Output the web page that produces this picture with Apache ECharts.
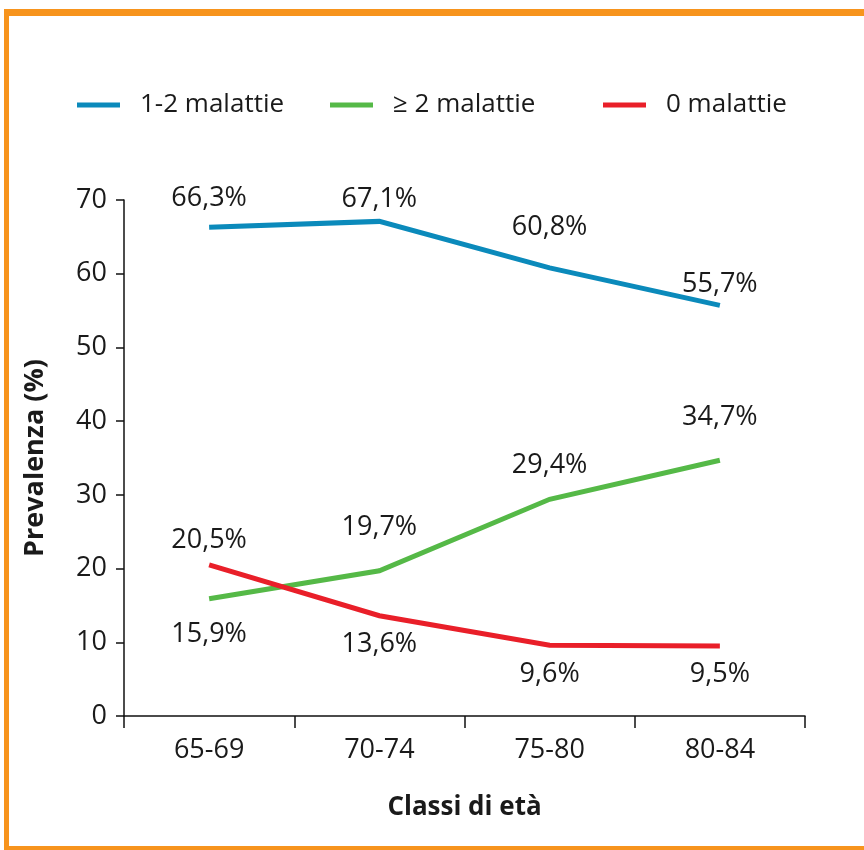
<!DOCTYPE html>
<html>
<head>
<meta charset="utf-8">
<script src="https://cdn.jsdelivr.net/npm/echarts@6/dist/echarts.min.js"></script>
<style>
  html, body { margin: 0; padding: 0; background: #fff; }
  #chart { width: 864px; height: 850px; }
</style>
</head>
<body>
<div id="chart"></div>
<script>
// Age classes and prevalence (%) of chronic conditions
const ageClasses = ['65-69', '70-74', '75-80', '80-84'];
const seriesNames = ['1-2 malattie', '\u2265 2 malattie', '0 malattie'];
const oneToTwo = [66.3, 67.1, 60.8, 55.7];
const twoOrMore = [15.9, 19.7, 29.4, 34.7];
const none = [20.5, 13.6, 9.6, 9.5];
const yTicks = [0, 10, 20, 30, 40, 50, 60, 70];

const colors = ['#0b8abb', '#55b947', '#e91f29'];
const FONT = '"Open Sans", "DejaVu Sans", sans-serif';
const TEXT = '#1a1a1a';

// Where each point's value label sits relative to its point
const labelPlacement = [
  [['top', 15], ['top', 9], ['top', 27], ['top', 8]],
  [['bottom', 22], ['top', 30], ['top', 20], ['top', 29]],
  [['top', 11], ['bottom', 15], ['bottom', 16], ['bottom', 15]]
];

// Left edge of each legend entry
const legendLeft = [72, 325, 598];

const fmt = v => v.toFixed(1).replace('.', ',') + '%';

function buildSeries(name, values, idx) {
  return {
    name: name,
    type: 'line',
    data: values.map((v, i) => ({
      value: v,
      label: { position: labelPlacement[idx][i][0], distance: labelPlacement[idx][i][1] }
    })),
    showSymbol: true,
    symbol: 'circle',
    symbolSize: 0,
    lineStyle: { color: colors[idx], width: 5, join: 'miter', cap: 'butt' },
    itemStyle: { color: colors[idx] },
    label: {
      show: true,
      formatter: p => fmt(p.value),
      fontFamily: FONT,
      fontSize: 27,
      color: TEXT
    },
    emphasis: { disabled: true },
    animation: false
  };
}

const chart = echarts.init(document.getElementById('chart'), null, { renderer: 'canvas' });

chart.setOption({
  backgroundColor: '#fff',
  animation: false,
  graphic: [
    { type: 'rect', shape: { x: 4, y: 9, width: 860, height: 7 }, style: { fill: '#f7941d' } },
    { type: 'rect', shape: { x: 4, y: 9, width: 5, height: 841 }, style: { fill: '#f7941d' } },
    { type: 'rect', shape: { x: 4, y: 846, width: 860, height: 4 }, style: { fill: '#f7941d' } }
  ],
  legend: seriesNames.map((n, i) => ({
    left: legendLeft[i],
    top: 87,
    icon: 'rect',
    itemWidth: 43,
    itemHeight: 5,
    data: [n],
    textStyle: { fontFamily: FONT, fontSize: 26, color: TEXT, padding: [0, 0, 0, 15] },
    selectedMode: false
  })),
  grid: { left: 124, top: 200, width: 681, height: 516, containLabel: false },
  xAxis: {
    type: 'category',
    data: ageClasses,
    boundaryGap: true,
    name: 'Classi di et\u00e0',
    nameLocation: 'middle',
    nameGap: 79,
    nameTextStyle: { fontFamily: FONT, fontSize: 26, fontWeight: 'bold', color: TEXT },
    axisLine: { lineStyle: { color: '#111', width: 1.5 } },
    axisTick: { show: true, length: 12, lineStyle: { color: '#111', width: 1.5 } },
    axisLabel: { margin: 21, fontFamily: FONT, fontSize: 27, color: TEXT }
  },
  yAxis: {
    type: 'value',
    min: yTicks[0],
    max: yTicks[yTicks.length - 1],
    interval: yTicks[1] - yTicks[0],
    name: 'Prevalenza (%)',
    nameLocation: 'middle',
    nameGap: 75,
    nameTextStyle: { fontFamily: FONT, fontSize: 27, fontWeight: 'bold', color: TEXT },
    axisLine: { show: true, lineStyle: { color: '#111', width: 1.5 } },
    axisTick: { show: true, length: 8, lineStyle: { color: '#111', width: 1.5 } },
    axisLabel: { margin: 17, fontFamily: FONT, fontSize: 27, color: TEXT },
    splitLine: { show: false }
  },
  series: [
    buildSeries(seriesNames[0], oneToTwo, 0),
    buildSeries(seriesNames[1], twoOrMore, 1),
    buildSeries(seriesNames[2], none, 2)
  ]
});
</script>
</body>
</html>
